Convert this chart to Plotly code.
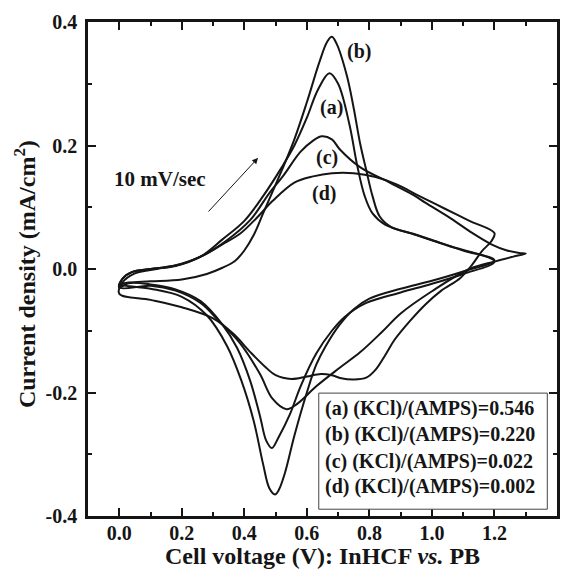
import plotly.graph_objects as go

# ---- data ----
# curve (a) (KCl)/(AMPS)=0.546
a_v = [0.00, 0.01, 0.04, 0.10, 0.18, 0.26, 0.33, 0.40, 0.46, 0.52, 0.56, 0.60, 0.635, 0.672, 0.70, 0.737, 0.76, 0.785, 0.81, 0.85, 0.95, 1.05, 1.20,
       1.10, 1.00, 0.90, 0.79, 0.72, 0.68, 0.63, 0.58, 0.546, 0.51, 0.488, 0.47, 0.45, 0.418, 0.377, 0.33, 0.26, 0.18, 0.10, 0.03, 0.00]
a_i = [-0.030, -0.016, -0.005, 0.000, 0.005, 0.020, 0.048, 0.078, 0.118, 0.165, 0.200, 0.245, 0.290, 0.317, 0.300, 0.232, 0.170, 0.118, 0.090, 0.072, 0.055, 0.038, 0.012,
       -0.008, -0.024, -0.038, -0.055, -0.078, -0.100, -0.137, -0.190, -0.235, -0.272, -0.290, -0.278, -0.238, -0.180, -0.128, -0.090, -0.052, -0.033, -0.025, -0.023, -0.030]

# curve (b) (KCl)/(AMPS)=0.220
b_v = [0.00, 0.03, 0.10, 0.20, 0.28, 0.33, 0.37, 0.40, 0.43, 0.46, 0.49, 0.52, 0.56, 0.60, 0.64, 0.665, 0.68, 0.695, 0.728, 0.75, 0.77, 0.79, 0.81, 0.833, 0.87, 0.94, 1.00, 1.10, 1.20,
       1.10, 1.00, 0.90, 0.80, 0.75, 0.705, 0.66, 0.63, 0.60, 0.56, 0.53, 0.51, 0.498, 0.48, 0.46, 0.43, 0.39, 0.345, 0.28, 0.20, 0.10, 0.00]
b_i = [-0.025, -0.022, -0.020, -0.017, -0.008, 0.002, 0.013, 0.030, 0.055, 0.090, 0.125, 0.160, 0.210, 0.270, 0.335, 0.368, 0.376, 0.365, 0.313, 0.260, 0.204, 0.160, 0.118, 0.085, 0.068, 0.057, 0.047, 0.030, 0.014,
       -0.004, -0.019, -0.032, -0.048, -0.065, -0.090, -0.125, -0.155, -0.200, -0.270, -0.330, -0.358, -0.365, -0.355, -0.316, -0.246, -0.180, -0.125, -0.075, -0.045, -0.032, -0.025]

# curve (c) (KCl)/(AMPS)=0.022
c_v = [0.00, 0.01, 0.04, 0.10, 0.18, 0.26, 0.34, 0.42, 0.48, 0.523, 0.58, 0.62, 0.648, 0.68, 0.705, 0.77, 0.865, 0.94, 0.98, 1.06, 1.13, 1.19, 1.24, 1.28, 1.30,
       1.26, 1.20, 1.12, 1.00, 0.90, 0.84, 0.77, 0.705, 0.63, 0.57, 0.535, 0.49, 0.45, 0.386, 0.32, 0.26, 0.18, 0.10, 0.00]
c_i = [-0.030, -0.016, -0.005, 0.000, 0.006, 0.020, 0.045, 0.080, 0.123, 0.150, 0.190, 0.208, 0.215, 0.210, 0.194, 0.165, 0.140, 0.120, 0.107, 0.082, 0.058, 0.040, 0.030, 0.026, 0.025,
       0.020, 0.012, 0.000, -0.036, -0.072, -0.102, -0.135, -0.160, -0.190, -0.218, -0.227, -0.210, -0.170, -0.120, -0.085, -0.055, -0.035, -0.027, -0.030]

# curve (d) (KCl)/(AMPS)=0.002
d_v = [0.00, 0.01, 0.05, 0.12, 0.20, 0.28, 0.33, 0.386, 0.44, 0.49, 0.56, 0.62, 0.68, 0.75, 0.82, 0.887, 0.96, 1.04, 1.12, 1.20,
       1.19, 1.16, 1.13, 1.09, 1.03, 0.98, 0.93, 0.88, 0.85, 0.82, 0.79, 0.75, 0.71, 0.68, 0.645, 0.60, 0.55, 0.50, 0.47, 0.42, 0.365, 0.30, 0.20, 0.10, 0.00]
d_i = [-0.040, -0.022, -0.007, 0.000, 0.008, 0.025, 0.040, 0.057, 0.083, 0.110, 0.140, 0.150, 0.155, 0.155, 0.149, 0.137, 0.118, 0.098, 0.078, 0.058,
       0.045, 0.029, 0.008, -0.015, -0.035, -0.057, -0.084, -0.115, -0.140, -0.163, -0.176, -0.179, -0.177, -0.172, -0.170, -0.174, -0.178, -0.172, -0.160, -0.135, -0.105, -0.080, -0.062, -0.050, -0.040]

legend_lines = ["(a) (KCl)/(AMPS)=0.546", "(b) (KCl)/(AMPS)=0.220",
                "(c) (KCl)/(AMPS)=0.022", "(d) (KCl)/(AMPS)=0.002"]
curve_tags = ["(a)", "(b)", "(c)", "(d)"]
x_ticks = [0.0, 0.2, 0.4, 0.6, 0.8, 1.0, 1.2, 1.4]
x_tick_text = ["0.0", "0.2", "0.4", "0.6", "0.8", "1.0", "1.2", "1.4"]
x_minor = [-0.1, 0.1, 0.3, 0.5, 0.7, 0.9, 1.1, 1.3]
y_ticks = [-0.4, -0.2, 0.0, 0.2, 0.4]
y_tick_text = ["-0.4", "-0.2", "0.0", "0.2", "0.4"]
y_minor = [-0.3, -0.1, 0.1, 0.3]
x_title = "Cell voltage (V): InHCF <i>vs.</i> PB"
y_title = "Current density (mA/cm<sup>2</sup>)"

FONT = "Liberation Serif, Times New Roman, serif"
INK = "#151515"

fig = go.Figure()
for v, i in [(a_v, a_i), (b_v, b_i), (c_v, c_i), (d_v, d_i)]:
    fig.add_trace(go.Scatter(x=v, y=i, mode="lines",
                             line=dict(color=INK, width=2, shape="spline", smoothing=1.0),
                             showlegend=False, hoverinfo="skip"))
# invisible companion trace so the overlay (minor-tick) axes are drawn
fig.add_trace(go.Scatter(x=a_v, y=a_i, xaxis="x2", yaxis="y2", mode="lines",
                         line=dict(width=0, color="white"), opacity=0,
                         showlegend=False, hoverinfo="skip"))

lab = dict(family=FONT, size=20, color=INK, weight="bold")
tick_common = dict(mirror="allticks", ticks="inside", tickcolor=INK, tickwidth=2,
                   showgrid=False, zeroline=False, automargin=False)

# the page body adds an 8px offset, so the figure is sized to fit the window
fig.update_layout(
    width=555, height=562,
    margin=dict(l=80, r=6, t=14, b=54),
    paper_bgcolor="white", plot_bgcolor="white", showlegend=False,
    xaxis=dict(range=[-0.1, 1.4], tickvals=x_ticks, ticktext=x_tick_text,
               showline=True, linecolor=INK, linewidth=2.5, ticklen=8,
               ticklabelstandoff=-3, tickfont=lab, **tick_common),
    yaxis=dict(range=[-0.4, 0.4], tickvals=y_ticks, ticktext=y_tick_text,
               showline=True, linecolor=INK, linewidth=2.5, ticklen=8,
               ticklabelstandoff=4, tickfont=lab, **tick_common),
    xaxis2=dict(range=[-0.1, 1.4], overlaying="x", anchor="y2", side="bottom",
                tickvals=x_minor, showticklabels=False, showline=False, ticklen=4,
                **tick_common),
    yaxis2=dict(range=[-0.4, 0.4], overlaying="y", anchor="x2", side="left",
                tickvals=y_minor, showticklabels=False, showline=False, ticklen=4,
                **tick_common),
)

title_font = dict(family=FONT, size=24, color=INK, weight="bold")
fig.add_annotation(xref="paper", yref="paper", x=0.5, y=-0.081, text=x_title,
                   showarrow=False, font=title_font, xanchor="center", yanchor="middle")
fig.add_annotation(xref="paper", yref="paper", x=-0.134, y=0.49, text=y_title,
                   showarrow=False, font=title_font, textangle=-90,
                   xanchor="center", yanchor="middle")

tag_pos = [(0.68, 0.261), (0.766, 0.353), (0.664, 0.181), (0.654, 0.123)]
for t, (px, py) in zip(curve_tags, tag_pos):
    fig.add_annotation(x=px, y=py, text=t, showarrow=False, font=lab)

fig.add_annotation(x=0.131, y=0.146, text="10 mV/sec", showarrow=False,
                   font=dict(family=FONT, size=21, color=INK, weight="bold"))
fig.add_annotation(x=0.444, y=0.18, ax=0.281, ay=0.0907, axref="x", ayref="y",
                   xref="x", yref="y", text="", showarrow=True,
                   arrowhead=2, arrowsize=1.2, arrowwidth=1, arrowcolor=INK)

# legend box
fig.add_shape(type="rect", x0=0.638, x1=1.369, y0=-0.389, y1=-0.201,
              line=dict(color="#444", width=1), fillcolor="white", layer="above")
leg_y = [-0.2267, -0.2672, -0.311, -0.3515]
for t, ly in zip(legend_lines, leg_y):
    fig.add_annotation(x=0.651, y=ly, text=t, showarrow=False, xanchor="left",
                       font=dict(family=FONT, size=20, color=INK, weight="bold"))

fig.write_html("out.html")
